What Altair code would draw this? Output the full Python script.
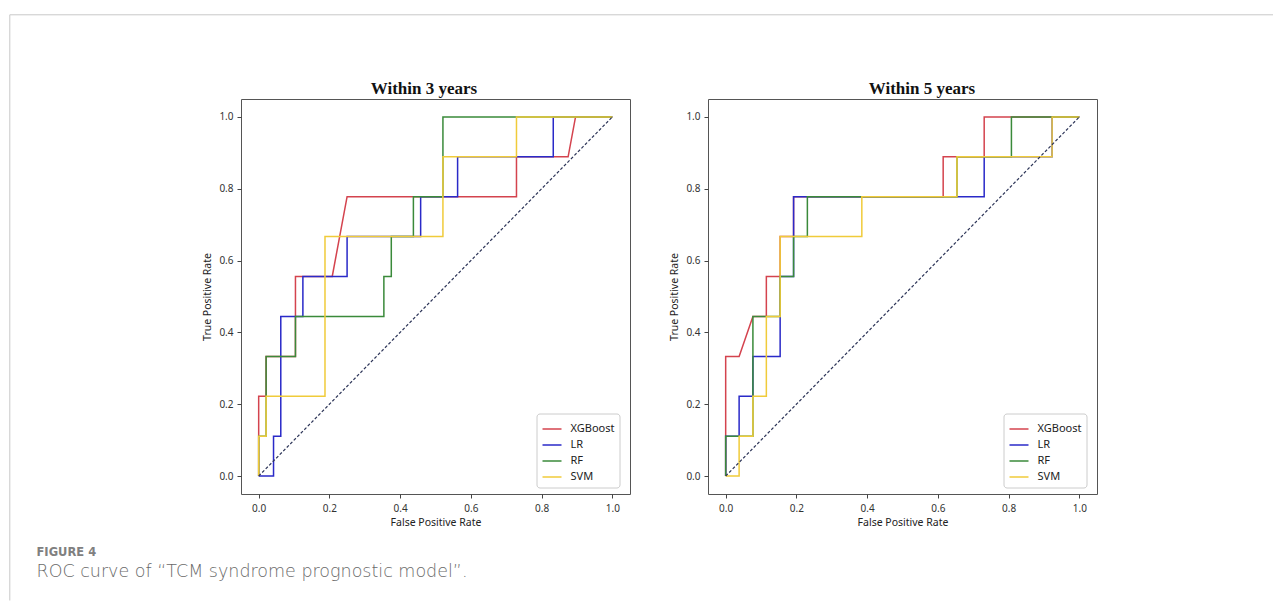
import altair as alt
import pandas as pd

models = ["XGBoost", "LR", "RF", "SVM"]
colors = ["#d4434e", "#2a2ac8", "#3a8a3a", "#f0cb3a"]
panel_titles = ["Within 3 years", "Within 5 years"]
ticks = [0.0, 0.2, 0.4, 0.6, 0.8, 1.0]
caption_label = "FIGURE 4"
caption_text = "ROC curve of \u201cTCM syndrome prognostic model\u201d."

# ---- Within 3 years ----
xgb3_fpr = [0.0, 0.0, 0.021, 0.021, 0.104, 0.104, 0.208, 0.25, 0.729, 0.729, 0.875, 0.896, 1.0]
xgb3_tpr = [0.0, 0.222, 0.222, 0.333, 0.333, 0.556, 0.556, 0.778, 0.778, 0.889, 0.889, 1.0, 1.0]
lr3_fpr = [0.0, 0.042, 0.042, 0.0625, 0.0625, 0.125, 0.125, 0.25, 0.25, 0.458, 0.458, 0.5625, 0.5625, 0.833, 0.833, 1.0]
lr3_tpr = [0.0, 0.0, 0.111, 0.111, 0.444, 0.444, 0.556, 0.556, 0.667, 0.667, 0.778, 0.778, 0.889, 0.889, 1.0, 1.0]
rf3_fpr = [0.0, 0.0, 0.021, 0.021, 0.104, 0.104, 0.354, 0.354, 0.375, 0.375, 0.4375, 0.4375, 0.521, 0.521, 1.0]
rf3_tpr = [0.0, 0.111, 0.111, 0.333, 0.333, 0.444, 0.444, 0.556, 0.556, 0.667, 0.667, 0.778, 0.778, 1.0, 1.0]
svm3_fpr = [0.0, 0.0, 0.021, 0.021, 0.1875, 0.1875, 0.521, 0.521, 0.729, 0.729, 1.0]
svm3_tpr = [0.0, 0.111, 0.111, 0.222, 0.222, 0.667, 0.667, 0.889, 0.889, 1.0, 1.0]

# ---- Within 5 years ----
xgb5_fpr = [0.0, 0.0, 0.038, 0.077, 0.115, 0.115, 0.154, 0.154, 0.192, 0.192, 0.615, 0.615, 0.731, 0.731, 1.0]
xgb5_tpr = [0.0, 0.333, 0.333, 0.444, 0.444, 0.556, 0.556, 0.667, 0.667, 0.778, 0.778, 0.889, 0.889, 1.0, 1.0]
lr5_fpr = [0.0, 0.0, 0.038, 0.038, 0.077, 0.077, 0.154, 0.154, 0.192, 0.192, 0.731, 0.731, 0.923, 0.923, 1.0]
lr5_tpr = [0.0, 0.111, 0.111, 0.222, 0.222, 0.333, 0.333, 0.556, 0.556, 0.778, 0.778, 0.889, 0.889, 1.0, 1.0]
rf5_fpr = [0.0, 0.0, 0.077, 0.077, 0.154, 0.154, 0.192, 0.192, 0.231, 0.231, 0.654, 0.654, 0.808, 0.808, 1.0]
rf5_tpr = [0.0, 0.111, 0.111, 0.444, 0.444, 0.556, 0.556, 0.667, 0.667, 0.778, 0.778, 0.889, 0.889, 1.0, 1.0]
svm5_fpr = [0.0, 0.038, 0.038, 0.077, 0.077, 0.115, 0.115, 0.154, 0.154, 0.385, 0.385, 0.654, 0.654, 0.923, 0.923, 1.0]
svm5_tpr = [0.0, 0.0, 0.111, 0.111, 0.222, 0.222, 0.444, 0.444, 0.667, 0.667, 0.778, 0.778, 0.889, 0.889, 1.0, 1.0]

diag_fpr = [0.0, 1.0]
diag_tpr = [0.0, 1.0]

series = {
    "Within 3 years": [("XGBoost", xgb3_fpr, xgb3_tpr), ("LR", lr3_fpr, lr3_tpr),
                       ("RF", rf3_fpr, rf3_tpr), ("SVM", svm3_fpr, svm3_tpr)],
    "Within 5 years": [("XGBoost", xgb5_fpr, xgb5_tpr), ("LR", lr5_fpr, lr5_tpr),
                       ("RF", rf5_fpr, rf5_tpr), ("SVM", svm5_fpr, svm5_tpr)],
}

rows = []
for p, lst in series.items():
    for m, fx, ty in lst:
        for i, (a, b) in enumerate(zip(fx, ty)):
            rows.append({"panel": p, "model": m, "step": i, "fpr": a, "tpr": b})
df = pd.DataFrame(rows)
diag_df = pd.DataFrame({"fpr": diag_fpr, "tpr": diag_tpr})
one = pd.DataFrame({"k": [0]})

PW, PH = 389, 395
OX, OY = 240.5, 98.5  # page position of left plot origin (for decorations)
FONT = "Noto Sans"
FRAME = "#c8c8c8"
TITLE_X = {"Within 3 years": 183, "Within 5 years": 214}


def make_panel(title, decorate):
    d = df[df.panel == title]
    xs = alt.Scale(domain=[-0.05, 1.05], nice=False, zero=False)
    ys = alt.Scale(domain=[-0.05, 1.05], nice=False, zero=False)
    xaxis = alt.Axis(values=ticks, format=".1f", title="False Positive Rate", grid=False,
                     domain=False, tickSize=4, tickColor="#444", labelPadding=5,
                     titlePadding=4, labelFlush=False)
    yaxis = alt.Axis(values=ticks, format=".1f", title="True Positive Rate", grid=False,
                     domain=False, tickSize=4, tickColor="#444", labelPadding=4,
                     titlePadding=6, labelFlush=False)
    legend = alt.Legend(title=None, orient="none", legendX=295.5, legendY=314.5,
                        symbolType="stroke", symbolSize=361, symbolStrokeWidth=1.5,
                        labelFont=FONT, labelFontSize=11, labelColor="#222",
                        strokeColor="#cccccc", fillColor="white", padding=5,
                        cornerRadius=3, rowPadding=-2, labelOffset=8)
    lines = alt.Chart(d).mark_line(strokeWidth=1.5).encode(
        x=alt.X("fpr:Q", scale=xs, axis=xaxis),
        y=alt.Y("tpr:Q", scale=ys, axis=yaxis),
        color=alt.Color("model:N", scale=alt.Scale(domain=models, range=colors), legend=legend),
        order=alt.Order("step:Q"),
    )
    diag = alt.Chart(diag_df).mark_line(strokeWidth=1.2, strokeDash=[3, 2], color="#2d3558").encode(
        x=alt.X("fpr:Q", scale=xs),
        y=alt.Y("tpr:Q", scale=ys),
    )
    head = alt.Chart(one).mark_text(text=title, align="center", baseline="alphabetic",
                                    font="Liberation Serif", fontSize=17, fontWeight="bold",
                                    color="#111").encode(
        x=alt.value(TITLE_X[title]), y=alt.value(-5))
    layers = [lines, diag, head]
    if decorate:
        anchor = alt.Chart(one).mark_rule(color="white", strokeWidth=1).encode(
            x=alt.value(-231.5), x2=alt.value(-230.5), y=alt.value(-89.5))
        top = alt.Chart(one).mark_rule(color=FRAME, strokeWidth=1).encode(
            x=alt.value(9.3 - OX), x2=alt.value(1272.5 - OX), y=alt.value(14.3 - OY))
        left = alt.Chart(one).mark_rule(color=FRAME, strokeWidth=1).encode(
            x=alt.value(9.3 - OX), y=alt.value(14.3 - OY), y2=alt.value(600 - OY))
        cap1 = alt.Chart(one).mark_text(text=caption_label, align="left", baseline="alphabetic",
                                        font="DejaVu Sans", fontSize=11.5, fontWeight="bold",
                                        color="#808080").encode(
            x=alt.value(36 - OX), y=alt.value(555 - OY))
        cap2 = alt.Chart(one).mark_text(text=caption_text, align="left", baseline="alphabetic",
                                        font="DejaVu Sans", fontSize=17.5, fontWeight=300,
                                        color="#6a6a6a").encode(
            x=alt.value(36 - OX), y=alt.value(576 - OY))
        layers += [anchor, top, left, cap1, cap2]
    return alt.layer(*layers).properties(width=PW, height=PH)


chart = alt.HConcatChart(
    hconcat=[make_panel(panel_titles[0], True), make_panel(panel_titles[1], False)],
    spacing=78, bounds="flush", padding=0,
).resolve_legend(color="independent").configure_view(
    stroke="#555555", strokeWidth=1
).configure_axis(
    labelFont=FONT, labelFontSize=10, labelColor="#333", titleFont=FONT,
    titleFontSize=10.5, titleFontWeight="normal", titleColor="#222"
)

chart.save("out.html", embed_options={"renderer": "svg", "actions": False})
